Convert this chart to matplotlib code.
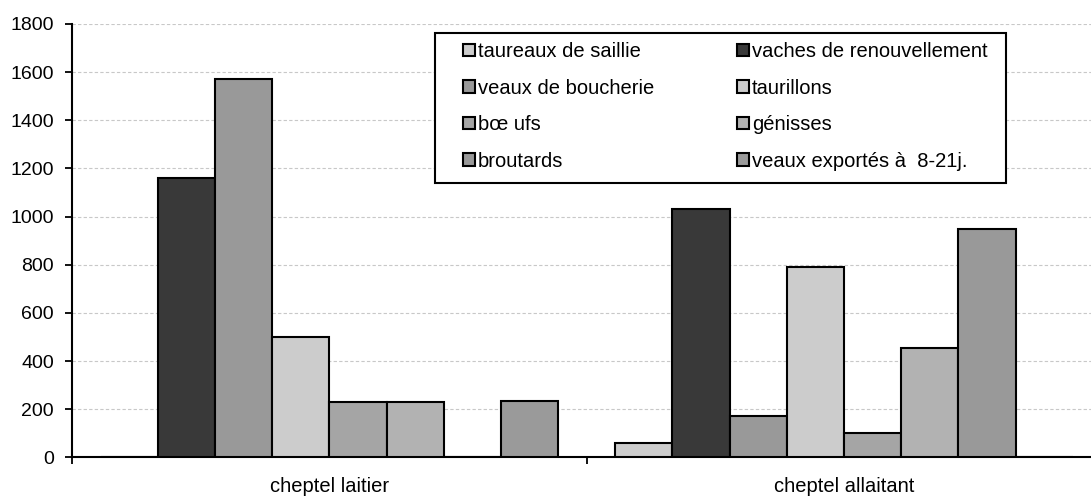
import matplotlib
matplotlib.use("Agg")
import matplotlib.pyplot as plt
from matplotlib.patches import Rectangle
import numpy as np

plt.rcParams["font.family"] = ["Liberation Sans", "DejaVu Sans"]

categories = ["cheptel laitier", "cheptel allaitant"]
series_names = [
    "taureaux de saillie",
    "vaches de renouvellement",
    "veaux de boucherie",
    "taurillons",
    "bœ ufs",
    "génisses",
    "broutards",
    "veaux exportés à  8-21j.",
]
series_colors = ["#cccccc", "#393939", "#999999", "#cccccc",
                 "#a5a5a5", "#b2b2b2", "#999999", "#9a9a9a"]
# values per series: [laitier, allaitant]
taureaux = [0, 61]
vaches = [1160, 1033]
veaux_boucherie = [1572, 171]
taurillons = [500, 789]
boeufs = [228, 102]
genisses = [228, 455]
broutards = [0, 950]
veaux_exportes = [235, 0]
series_values = [taureaux, vaches, veaux_boucherie, taurillons,
                 boeufs, genisses, broutards, veaux_exportes]

W, H = 1091, 497
fig = plt.figure(figsize=(W / 100, H / 100), dpi=100)
ax = fig.add_axes([72 / W, (H - 457.3) / H, 1029.4 / W, (457.3 - 24) / H])

centers = np.arange(len(categories)) + 0.5
bw = 1 / 9
handles = []
for i, (name, vals, col) in enumerate(zip(series_names, series_values, series_colors)):
    b = ax.bar(centers + (i - 3.5) * bw, vals, width=bw, color=col,
               edgecolor="black", linewidth=1.5, label=name, zorder=3)
    handles.append(b)

ax.set_xlim(0, 2)
ax.set_ylim(0, 1800)
ax.set_yticks(np.arange(0, 1801, 200))
ax.yaxis.grid(True, color="#c8c8c8", linestyle=(0, (3, 2)), linewidth=0.8, zorder=0)
ax.set_axisbelow(True)

ax.set_xticks([0, 1, 2])
ax.set_xticklabels([])
ax.set_xticks(centers, minor=True)
ax.set_xticklabels(categories, minor=True)
ax.tick_params(axis="x", which="major", direction="out", length=5, width=1.3)
ax.tick_params(axis="x", which="minor", length=0, pad=14, labelsize=14.5)
ax.tick_params(axis="y", direction="out", length=5, width=1.3, pad=8, labelsize=14)

for s in ["top", "right"]:
    ax.spines[s].set_visible(False)
for s in ["left", "bottom"]:
    ax.spines[s].set_linewidth(1.5)

order = [0, 2, 4, 6, 1, 3, 5, 7]
leg = fig.legend([handles[k] for k in order], [series_names[k] for k in order],
                 loc="upper left", bbox_to_anchor=(453 / W, 1 - 32 / H), ncol=2,
                 frameon=False, borderpad=0, fontsize=14.5, handlelength=0.6,
                 handleheight=0.6, handletextpad=0.12, labelspacing=0.87,
                 columnspacing=4.15)
fig.patches.append(Rectangle((435 / W, 1 - 183 / H), (1006 - 435) / W, (183 - 32.7) / H,
                             transform=fig.transFigure, facecolor="white",
                             edgecolor="black", linewidth=1.5, zorder=5))
leg.set_zorder(6)

fig.savefig("out.png", dpi=100)
